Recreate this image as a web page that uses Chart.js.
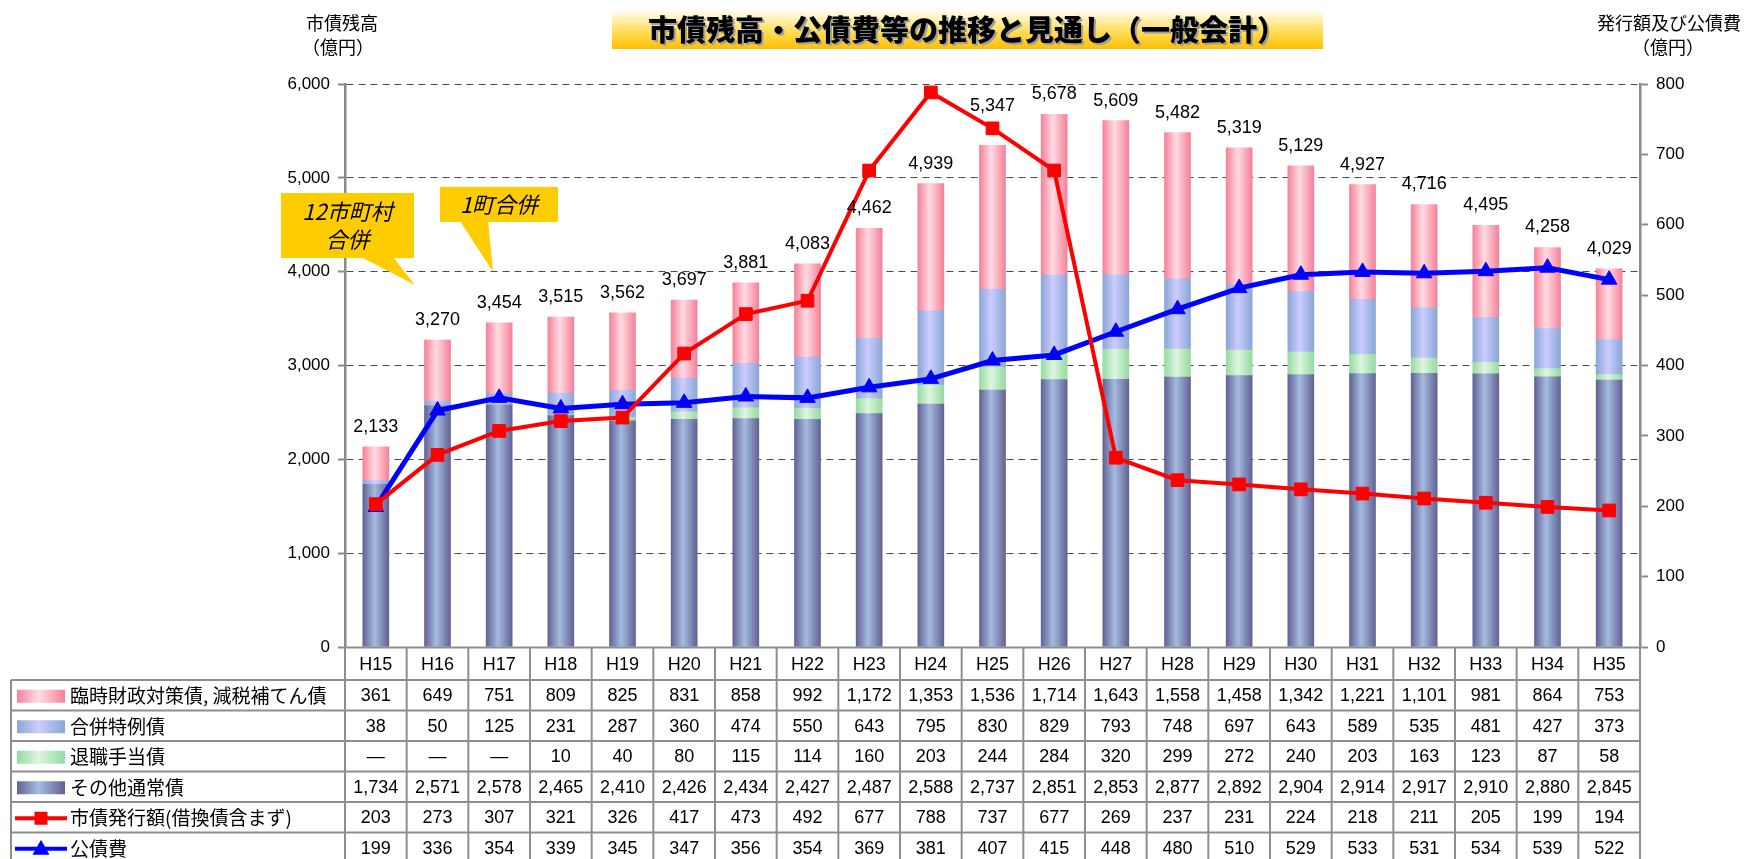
<!DOCTYPE html>
<html lang="ja">
<head>
<meta charset="utf-8">
<title>市債残高・公債費等の推移と見通し（一般会計）</title>
<script src="https://cdn.jsdelivr.net/npm/chart.js@4.4.1/dist/chart.umd.min.js"></script>
<style>
  html, body { margin: 0; padding: 0; background: #fff; }
  #wrap { width: 1746px; height: 859px; position: relative; }
</style>
</head>
<body>
<div id="wrap"><canvas id="debtChart"></canvas></div>
<script>
const years = ['H15', 'H16', 'H17', 'H18', 'H19', 'H20', 'H21', 'H22', 'H23', 'H24', 'H25',
    'H26', 'H27', 'H28', 'H29', 'H30', 'H31', 'H32', 'H33', 'H34', 'H35'];
const rinjiDebt = [361, 649, 751, 809, 825, 831, 858, 992, 1172, 1353, 1536, 1714, 1643, 1558, 1458, 1342, 1221, 1101, 981, 864, 753];
const mergerDebt = [38, 50, 125, 231, 287, 360, 474, 550, 643, 795, 830, 829, 793, 748, 697, 643, 589, 535, 481, 427, 373];
const retireDebt = [null, null, null, 10, 40, 80, 115, 114, 160, 203, 244, 284, 320, 299, 272, 240, 203, 163, 123, 87, 58];
const otherDebt = [1734, 2571, 2578, 2465, 2410, 2426, 2434, 2427, 2487, 2588, 2737, 2851, 2853, 2877, 2892, 2904, 2914, 2917, 2910, 2880, 2845];
const issueAmount = [203, 273, 307, 321, 326, 417, 473, 492, 677, 788, 737, 677, 269, 237, 231, 224, 218, 211, 205, 199, 194];
const debtService = [199, 336, 354, 339, 345, 347, 356, 354, 369, 381, 407, 415, 448, 480, 510, 529, 533, 531, 534, 539, 522];

const leftMax = 6000, leftStep = 1000;
const rightMax = 800, rightStep = 100;

const FONT = "'Liberation Sans', 'Noto Sans CJK JP', sans-serif";
const JP = "'Noto Sans CJK JP', 'Liberation Sans', sans-serif";
const BAR_W = 26;

const colors = {
    rinji: ['#f5819a', '#ffdbe3'],
    merger: ['#8aa6d6', '#cccdff'],
    retire: ['#96dba0', '#ddf5e0'],
    other: ['#626294', '#a5bbe0'],
    issue: '#ff0000',
    service: '#0000ff'
};

function hGrad(ctx, x0, x1, pair) {
    const g = ctx.createLinearGradient(x0, 0, x1, 0);
    g.addColorStop(0, pair[0]);
    g.addColorStop(0.45, pair[1]);
    g.addColorStop(1, pair[0]);
    return g;
}

function barFill(pair) {
    return c => {
        const x = c.chart.scales.x;
        if (c.type !== 'data' || !x) return pair[0];
        const cx = x.getPixelForValue(c.dataIndex);
        if (!isFinite(cx)) return pair[0];
        return hGrad(c.chart.ctx, cx - BAR_W / 2, cx + BAR_W / 2, pair);
    };
}

const fmt = v => (v === null || v === undefined) ? '—' : v.toLocaleString('en-US');
const totals = years.map((_, i) => rinjiDebt[i] + mergerDebt[i] + (retireDebt[i] || 0) + otherDebt[i]);

function drawMarker(ctx, style, x, y, color) {
    ctx.fillStyle = color;
    ctx.beginPath();
    if (style === 'rect') {
        ctx.rect(x - 6.5, y - 6.5, 13, 13);
    } else {
        ctx.moveTo(x, y - 9);
        ctx.lineTo(x + 8.5, y + 6);
        ctx.lineTo(x - 8.5, y + 6);
        ctx.closePath();
    }
    ctx.fill();
}

// titles and the two yellow callouts
const decorPlugin = {
    id: 'decor',
    afterDraw(chart) {
        const { ctx, scales: { x, y } } = chart;
        ctx.save();

        // main title box
        const g = ctx.createLinearGradient(0, 11, 0, 49);
        g.addColorStop(0, '#fffdf2');
        g.addColorStop(0.5, '#ffe060');
        g.addColorStop(1, '#ffbf00');
        ctx.fillStyle = g;
        ctx.fillRect(612, 11, 711, 38);
        const title = '市債残高・公債費等の推移と見通し（一般会計）';
        ctx.font = '900 29px ' + JP;
        ctx.textAlign = 'center';
        ctx.textBaseline = 'middle';
        ctx.fillStyle = '#a0a0a0';
        ctx.fillText(title, 969, 32);
        ctx.fillStyle = '#000';
        ctx.fillText(title, 967, 30);

        // axis titles
        ctx.font = '18px ' + JP;
        ctx.fillText('市債残高', 342, 23);
        ctx.fillText('（億円）', 338, 47);
        ctx.fillText('発行額及び公債費', 1669, 23);
        ctx.fillText('（億円）', 1668, 47);

        // callouts
        const callouts = [
            { lines: ['12市町村', '合併'], box: [281, 193, 133, 65], base: [361, 393], tip: [x.getPixelForValue(0.63), y.getPixelForValue(3860)] },
            { lines: ['1町合併'], box: [440, 187, 118, 35], base: [460, 488], tip: [x.getPixelForValue(1.9), y.getPixelForValue(4000)] }
        ];
        callouts.forEach(co => {
            const [bx, by, bw, bh] = co.box;
            ctx.fillStyle = '#ffcc00';
            ctx.fillRect(bx, by, bw, bh);
            ctx.beginPath();
            ctx.moveTo(co.base[0], by + bh - 1);
            ctx.lineTo(co.tip[0], co.tip[1]);
            ctx.lineTo(co.base[1], by + bh - 1);
            ctx.closePath();
            ctx.fill();
            ctx.fillStyle = '#000';
            ctx.font = 'italic 22px ' + JP;
            const lh = 28;
            const y0 = by + bh / 2 - (co.lines.length - 1) * lh / 2;
            co.lines.forEach((t, k) => ctx.fillText(t, bx + bw / 2, y0 + k * lh));
        });
        ctx.restore();
    }
};

// totals above the stacked bars (H25 label sits higher, clear of the red line)
const extraLift = { H25: 19 };
const totalsPlugin = {
    id: 'totals',
    afterDraw(chart) {
        const { ctx, scales: { x, y } } = chart;
        ctx.save();
        ctx.font = '18px ' + FONT;
        ctx.fillStyle = '#000';
        ctx.textAlign = 'center';
        ctx.textBaseline = 'middle';
        totals.forEach((t, i) => {
            const lift = 20 + (extraLift[years[i]] || 0);
            ctx.fillText(fmt(t), x.getPixelForValue(i), y.getPixelForValue(t) - lift);
        });
        ctx.restore();
    }
};

// data table under the plot
const tableRows = [
    { label: '臨時財政対策債, 減税補てん債', values: rinjiDebt, bar: colors.rinji },
    { label: '合併特例債', values: mergerDebt, bar: colors.merger },
    { label: '退職手当債', values: retireDebt, bar: colors.retire },
    { label: 'その他通常債', values: otherDebt, bar: colors.other },
    { label: '市債発行額(借換債含まず)', values: issueAmount, line: colors.issue, marker: 'rect' },
    { label: '公債費', values: debtService, line: colors.service, marker: 'triangle' }
];

const tablePlugin = {
    id: 'dataTable',
    afterDraw(chart) {
        const { ctx, chartArea: area, scales: { x } } = chart;
        const half = (x.getPixelForValue(1) - x.getPixelForValue(0)) / 2;
        const headTop = area.bottom + 0.5;
        const headBot = headTop + 32.5;
        const rowH = 30.5;
        const legL = 11;
        const bottom = chart.height + 5;
        ctx.save();

        ctx.textAlign = 'center';
        ctx.textBaseline = 'middle';
        ctx.fillStyle = '#000';
        ctx.font = '18px ' + FONT;
        years.forEach((yr, i) => ctx.fillText(yr, x.getPixelForValue(i), (headTop + headBot) / 2 + 1));

        tableRows.forEach((row, r) => {
            const top = headBot + r * rowH;
            const cy = top + rowH / 2 + 1;
            ctx.textAlign = 'center';
            ctx.font = '18px ' + FONT;
            ctx.fillStyle = '#000';
            row.values.forEach((v, i) => ctx.fillText(fmt(v), x.getPixelForValue(i), cy));

            if (row.bar) {
                ctx.fillStyle = hGrad(ctx, 17, 65, row.bar);
                ctx.fillRect(17, cy - 6.5, 48, 13);
            } else {
                ctx.strokeStyle = row.line;
                ctx.lineWidth = 4;
                ctx.beginPath();
                ctx.moveTo(15, cy);
                ctx.lineTo(67, cy);
                ctx.stroke();
                drawMarker(ctx, row.marker, 41, cy, row.line);
            }
            ctx.textAlign = 'left';
            ctx.fillStyle = '#000';
            ctx.font = '19px ' + JP;
            ctx.fillText(row.label, 70, cy);
        });

        // grid of the table
        ctx.strokeStyle = '#8e8e8e';
        ctx.lineWidth = 2;
        ctx.beginPath();
        ctx.moveTo(area.left, headTop);
        ctx.lineTo(area.right, headTop);
        for (let r = 0; r <= tableRows.length; r++) {
            const yy = headBot + r * rowH;
            ctx.moveTo(legL, yy);
            ctx.lineTo(area.right, yy);
        }
        ctx.moveTo(legL, headBot);
        ctx.lineTo(legL, bottom);
        for (let i = 0; i <= years.length; i++) {
            const xx = i < years.length ? x.getPixelForValue(i) - half : x.getPixelForValue(i - 1) + half;
            ctx.moveTo(xx, headTop);
            ctx.lineTo(xx, bottom);
        }
        ctx.stroke();
        ctx.restore();
    }
};

const barBase = { type: 'bar', yAxisID: 'y', stack: 'debt', barThickness: BAR_W, order: 3 };

new Chart(document.getElementById('debtChart'), {
    data: {
        labels: years,
        datasets: [
            { ...barBase, label: 'その他通常債', data: otherDebt, backgroundColor: barFill(colors.other) },
            { ...barBase, label: '退職手当債', data: retireDebt, backgroundColor: barFill(colors.retire) },
            { ...barBase, label: '合併特例債', data: mergerDebt, backgroundColor: barFill(colors.merger) },
            { ...barBase, label: '臨時財政対策債, 減税補てん債', data: rinjiDebt, backgroundColor: barFill(colors.rinji) },
            {
                type: 'line', label: '公債費', data: debtService, yAxisID: 'y1', order: 1,
                borderColor: colors.service, backgroundColor: colors.service, borderWidth: 5,
                pointStyle: 'triangle', pointRadius: 9, pointBorderWidth: 1, tension: 0, clip: false
            },
            {
                type: 'line', label: '市債発行額(借換債含まず)', data: issueAmount, yAxisID: 'y1', order: 0,
                borderColor: colors.issue, backgroundColor: colors.issue, borderWidth: 4,
                pointStyle: 'rect', pointRadius: 9, pointBorderWidth: 1, tension: 0, clip: false
            }
        ]
    },
    options: {
        responsive: true,
        maintainAspectRatio: false,
        animation: false,
        layout: { padding: { left: 265, right: 0, top: 84, bottom: 212 } },
        plugins: {
            legend: { display: false },
            tooltip: { enabled: false }
        },
        scales: {
            x: { display: false, stacked: true },
            y: {
                position: 'left',
                stacked: true,
                min: 0,
                max: leftMax,
                afterFit: s => { s.width = 80; },
                ticks: {
                    stepSize: leftStep,
                    padding: 8,
                    color: '#000',
                    font: { family: FONT, size: 17 },
                    callback: v => v.toLocaleString('en-US')
                },
                grid: {
                    color: c => c.tick && c.tick.value === 0 ? 'rgba(0,0,0,0)' : '#4a4a4a',
                    lineWidth: 1,
                    tickLength: 7,
                    tickColor: '#8a8a8a',
                    tickWidth: 2
                },
                border: { display: true, color: '#8a8a8a', width: 2.5, dash: [7, 5] }
            },
            y1: {
                position: 'right',
                min: 0,
                max: rightMax,
                afterFit: s => { s.width = 106; },
                ticks: {
                    stepSize: rightStep,
                    padding: 8,
                    color: '#000',
                    font: { family: FONT, size: 17 }
                },
                grid: {
                    drawOnChartArea: false,
                    tickLength: 8,
                    tickColor: '#8a8a8a',
                    tickWidth: 2
                },
                border: { display: true, color: '#8a8a8a', width: 2.5 }
            }
        }
    },
    plugins: [decorPlugin, totalsPlugin, tablePlugin]
});
</script>
</body>
</html>
